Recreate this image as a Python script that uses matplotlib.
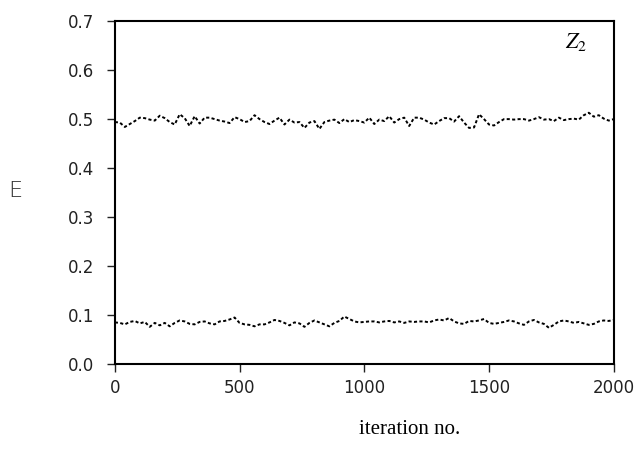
import numpy as np
import matplotlib
matplotlib.use('Agg')
import matplotlib.pyplot as plt

plt.rcParams['mathtext.fontset'] = 'stix'

# values read every 20 iterations
upper = [0.494, 0.493, 0.484, 0.490, 0.496, 0.503, 0.502, 0.499, 0.497, 0.507,
         0.502, 0.494, 0.489, 0.510, 0.502, 0.486, 0.506, 0.491, 0.503, 0.503,
         0.500, 0.497, 0.495, 0.492, 0.504, 0.500, 0.494, 0.496, 0.508, 0.500,
         0.494, 0.490, 0.497, 0.503, 0.489, 0.499, 0.493, 0.494, 0.482, 0.493,
         0.496, 0.480, 0.494, 0.497, 0.499, 0.492, 0.500, 0.494, 0.498, 0.496,
         0.493,
         0.503, 0.490, 0.499, 0.496, 0.506, 0.493, 0.500, 0.503, 0.486, 0.503,
         0.503, 0.499, 0.493, 0.489, 0.496, 0.502, 0.502, 0.495, 0.506, 0.493,
         0.482, 0.483, 0.510, 0.500, 0.489, 0.487, 0.494, 0.500, 0.500, 0.499,
         0.500, 0.500, 0.497, 0.500, 0.504, 0.499, 0.500, 0.496, 0.503, 0.498,
         0.500, 0.501, 0.499, 0.508, 0.513, 0.505, 0.508, 0.501, 0.497, 0.500]

lower = [0.085, 0.084, 0.081, 0.086, 0.088, 0.083, 0.086, 0.076, 0.084, 0.079,
         0.084, 0.077, 0.084, 0.089, 0.087, 0.082, 0.081, 0.086, 0.087, 0.083,
         0.081, 0.087, 0.088, 0.091, 0.095, 0.084, 0.081, 0.080, 0.077, 0.081,
         0.081, 0.085, 0.090, 0.088, 0.084, 0.079, 0.085, 0.083, 0.076, 0.084,
         0.089, 0.085, 0.081, 0.077, 0.084, 0.088, 0.097, 0.092, 0.087, 0.085,
         0.086,
         0.087, 0.087, 0.085, 0.087, 0.088, 0.085, 0.087, 0.084, 0.087, 0.086,
         0.087, 0.087, 0.085, 0.089, 0.091, 0.089, 0.094, 0.087, 0.083, 0.082,
         0.088, 0.087, 0.089, 0.092, 0.084, 0.082, 0.084, 0.086, 0.089, 0.087,
         0.083, 0.080, 0.087, 0.090, 0.085, 0.082, 0.074, 0.080, 0.087, 0.089,
         0.087, 0.084, 0.086, 0.083, 0.080, 0.082, 0.087, 0.089, 0.088, 0.090]

iters = np.arange(len(upper)) * 20
xticks = [0, 500, 1000, 1500, 2000]
yticks = [0.0, 0.1, 0.2, 0.3, 0.4, 0.5, 0.6, 0.7]

fig = plt.figure(figsize=(6.38, 4.5), dpi=100)
ax = fig.add_axes([0.180, 0.191, 0.782, 0.762])

ax.plot(iters, upper, color='black', lw=1.4, ls=(0, (1.6, 1.2)))
ax.plot(iters, lower, color='black', lw=1.4, ls=(0, (1.6, 1.2)))

ax.set_xlim(0, 2000)
ax.set_ylim(0, 0.7)
ax.set_xticks(xticks)
ax.set_xticklabels([str(t) for t in xticks])
ax.set_yticks(yticks)
ax.set_yticklabels(['%.1f' % t for t in yticks])
for s in ax.spines.values():
    s.set_linewidth(1.5)
ax.tick_params(axis='y', direction='out', length=6, width=1, pad=9,
               labelsize=12, colors='#222222')
ax.tick_params(axis='x', direction='out', length=6, width=1, pad=5,
               labelsize=12, colors='#222222')

ax.text(-0.2, 0.505, 'E', transform=ax.transAxes, fontsize=16,
        ha='center', va='center', color='#333333', fontweight='light')
ax.text(0.59, -0.19, 'iteration no.', transform=ax.transAxes,
        fontsize=15, family='Liberation Serif', ha='center', va='center')
ax.text(0.925, 0.94, r'$Z_2$', transform=ax.transAxes, fontsize=16,
        ha='center', va='center')

fig.savefig('out.png', dpi=100)
